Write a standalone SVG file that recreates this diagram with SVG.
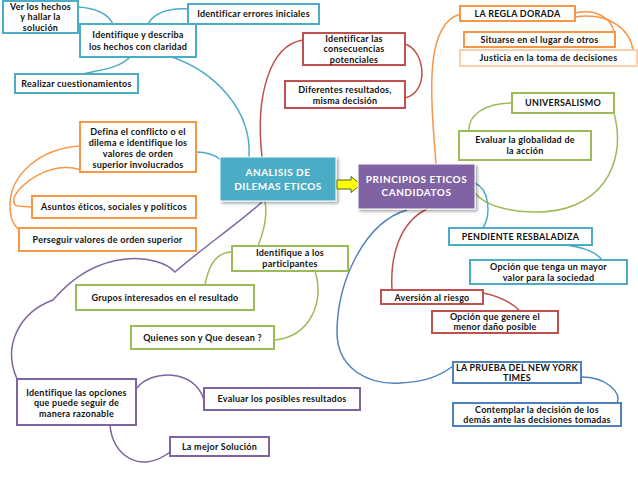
<svg xmlns="http://www.w3.org/2000/svg" width="638" height="479" viewBox="0 0 638 479">
<style>
.b{fill:#fff;stroke-width:2}
.t{font-family:Lato,"Liberation Sans",sans-serif;font-weight:bold;font-size:9px;fill:#111;text-anchor:middle;letter-spacing:0.25px}
.w{font-family:Lato,"Liberation Sans",sans-serif;font-weight:bold;font-size:10px;fill:#fff;text-anchor:middle;letter-spacing:0.5px}
.teal{stroke:#4bacc6}.or{stroke:#f79646}.red{stroke:#c0504d}.gr{stroke:#9bbb59}.bl{stroke:#4f81bd}.pu{stroke:#8064a2}
#connectors path{fill:none;stroke-width:1.5}
</style>
<defs>
<filter id="sh" x="-10%" y="-10%" width="130%" height="140%"><feDropShadow dx="2" dy="2" stdDeviation="1.5" flood-color="#000" flood-opacity="0.35"/></filter>
</defs>
<rect width="638" height="479" fill="#fff"/>
<g id="connectors">
<path class="teal" d="M78,7 C95,8 108,14 113,24"/>
<path class="teal" d="M148,24 C155,12 170,8 188,9"/>
<path class="teal" d="M130,57 C120,68 100,70 83,74"/>
<path class="teal" d="M172,57 C215,72 252,110 249,157"/>
<path class="teal" d="M196,152 C205,152 215,155 221,160"/>
<path class="or" d="M81,146 C40,148 10,175 10,205 C10,220 14,225 19,230"/>
<path class="or" d="M81,170 C50,160 18,185 14,198 C12,210 22,205 32,207"/>
<path class="red" d="M303,40 C270,45 255,95 262,157"/>
<path class="red" d="M405,44 C425,50 430,92 405,98"/>
<path class="or" d="M436,164 C430,90 425,25 460,14"/>
<path class="or" d="M575,13 C598,8 612,20 614,32"/>
<path class="or" d="M575,17 C610,12 630,30 633,50"/>
<path class="gr" d="M512,103 C485,103 468,115 469,131"/>
<path class="gr" d="M614,113 C628,165 600,214 532,212 C505,211 485,205 475,193"/>
<path class="teal" d="M475,183 C490,190 491,215 483,228"/>
<path class="teal" d="M566,245 C582,247 596,252 602,260"/>
<path class="red" d="M427,209 C400,222 390,255 392,290"/>
<path class="red" d="M483,293 C498,296 512,303 520,311"/>
<path class="bl" d="M407,210 C365,222 338,280 337,330 C336,370 370,385 400,383 C425,382 440,376 453,366"/>
<path class="bl" d="M581,377 C606,377 622,392 617,404"/>
<path class="gr" d="M265,201 C268,220 262,235 258,246"/>
<path class="gr" d="M232,252 C215,252 208,268 205,285"/>
<path class="gr" d="M315,271 C324,300 312,336 275,340"/>
<path class="pu" d="M262,202 C240,222 200,250 175,272 C160,255 100,245 53,300 C20,312 2,345 17,379"/>
<path class="pu" d="M137,388 C150,370 195,368 204,400"/>
<path class="pu" d="M110,425 C112,455 140,475 170,452"/>
</g>
<g id="n1"><rect class="b teal" x="3" y="1" width="75" height="32"/><text class="t" x="40.5" y="9.5">Ver los hechos</text><text class="t" x="40.5" y="20">y hallar la</text><text class="t" x="40.5" y="30.5">solución</text></g>
<g id="n2"><rect class="b teal" x="80" y="24" width="116" height="33"/><text class="t" x="138" y="38">Identifique y describa</text><text class="t" x="138" y="49.5">los hechos con claridad</text></g>
<g id="n3"><rect class="b teal" x="188" y="4" width="131" height="20"/><text class="t" x="253.5" y="17">Identificar errores iniciales</text></g>
<g id="n4"><rect class="b teal" x="15" y="74" width="123" height="19"/><text class="t" x="76.5" y="86.5">Realizar cuestionamientos</text></g>
<g id="n5"><rect class="b or" x="80" y="122" width="116" height="50"/><text class="t" x="138" y="135">Defina el conflicto o el</text><text class="t" x="138" y="146">dilema e identifique los</text><text class="t" x="138" y="156.5">valores de orden</text><text class="t" x="138" y="168">superior involucrados</text></g>
<g id="n6"><rect class="b or" x="32" y="196" width="164" height="22"/><text class="t" x="114" y="210">Asuntos éticos, sociales y políticos</text></g>
<g id="n7"><rect class="b or" x="19" y="228" width="177" height="23"/><text class="t" x="107.5" y="242.5">Perseguir valores de orden superior</text></g>
<g id="n8"><rect x="220" y="157" width="116" height="44" fill="#4bacc6" stroke="#fff" stroke-width="1" filter="url(#sh)"/><text class="w" x="278" y="176">ANALISIS  DE</text><text class="w" x="278" y="189.5">DILEMAS ETICOS</text></g>
<g id="arrow"><path d="M337,180 L351,180 L351,176.5 L361,184.5 L351,192.5 L351,189 L337,189 Z" fill="#ffff00" stroke="#4f6228" stroke-width="1"/></g>
<g id="n10"><rect x="358" y="164" width="117" height="45" fill="#8064a2" stroke="#fff" stroke-width="1" filter="url(#sh)"/><text class="w" x="416.5" y="183">PRINCIPIOS ETICOS</text><text class="w" x="416.5" y="196">CANDIDATOS</text></g>
<g id="n11"><rect class="b red" x="303" y="33" width="102" height="32"/><text class="t" x="354" y="41.5">Identificar las</text><text class="t" x="354" y="52">consecuencias</text><text class="t" x="354" y="62.5">potenciales</text></g>
<g id="n12"><rect class="b red" x="285" y="81" width="120" height="27"/><text class="t" x="345" y="93">Diferentes resultados,</text><text class="t" x="345" y="103.5">misma decisión</text></g>
<g id="n13"><rect class="b or" x="460" y="6" width="115" height="15"/><text class="t" x="517.5" y="16.5">LA REGLA DORADA</text></g>
<g id="n14"><rect class="b or" x="464" y="32" width="151" height="15"/><text class="t" x="539.5" y="42.5">Situarse en el lugar de otros</text></g>
<g id="n15"><rect x="460" y="50" width="177" height="16" fill="#fff" stroke="#fac090" stroke-width="1.5"/><text class="t" x="548.5" y="61">Justicia en la toma de decisiones</text></g>
<g id="n16"><rect class="b gr" x="512" y="93" width="102" height="20"/><text class="t" x="563" y="106">UNIVERSALISMO</text></g>
<g id="n17"><rect class="b gr" x="459" y="131" width="132" height="29"/><text class="t" x="525" y="143">Evaluar la globalidad de</text><text class="t" x="525" y="154">la acción</text></g>
<g id="n18"><rect class="b teal" x="449" y="228" width="143" height="17"/><text class="t" x="520.5" y="239.5">PENDIENTE RESBALADIZA</text></g>
<g id="n19"><rect class="b teal" x="470" y="260" width="157" height="24"/><text class="t" x="548.5" y="269.5">Opción que tenga un mayor</text><text class="t" x="548.5" y="280.5">valor para la sociedad</text></g>
<g id="n20"><rect class="b red" x="381" y="290" width="102" height="14"/><text class="t" x="432" y="300.5">Aversión al riesgo</text></g>
<g id="n21"><rect class="b red" x="432" y="311" width="126" height="22"/><text class="t" x="495" y="319.5">Opción que genere el</text><text class="t" x="495" y="330">menor daño posible</text></g>
<g id="n22"><rect class="b bl" x="453" y="362" width="128" height="21"/><text class="t" x="517" y="370.5">LA PRUEBA DEL NEW YORK</text><text class="t" x="517" y="380.5">TIMES</text></g>
<g id="n23"><rect class="b bl" x="453" y="403" width="168" height="23"/><text class="t" x="537" y="413">Contemplar la decisión de los</text><text class="t" x="537" y="423">demás ante las decisiones tomadas</text></g>
<g id="n24"><rect class="b gr" x="232" y="246" width="116" height="25"/><text class="t" x="290" y="256">Identifique a los</text><text class="t" x="290" y="266.5">participantes</text></g>
<g id="n25"><rect class="b gr" x="76" y="285" width="178" height="25"/><text class="t" x="165" y="300.5">Grupos interesados en el resultado</text></g>
<g id="n26"><rect class="b gr" x="131" y="326" width="143" height="23"/><text class="t" x="202.5" y="340.5">Quienes son y Que desean ?</text></g>
<g id="n27"><rect class="b pu" x="17" y="379" width="119" height="46"/><text class="t" x="76.5" y="395.5">Identifique las opciones</text><text class="t" x="76.5" y="406">que puede seguir de</text><text class="t" x="76.5" y="417">manera razonable</text></g>
<g id="n28"><rect class="b pu" x="204" y="388" width="156" height="22"/><text class="t" x="282" y="402">Evaluar los posibles resultados</text></g>
<g id="n29"><rect class="b pu" x="170" y="437" width="99" height="19"/><text class="t" x="219.5" y="449.5">La mejor Solución</text></g>
</svg>
